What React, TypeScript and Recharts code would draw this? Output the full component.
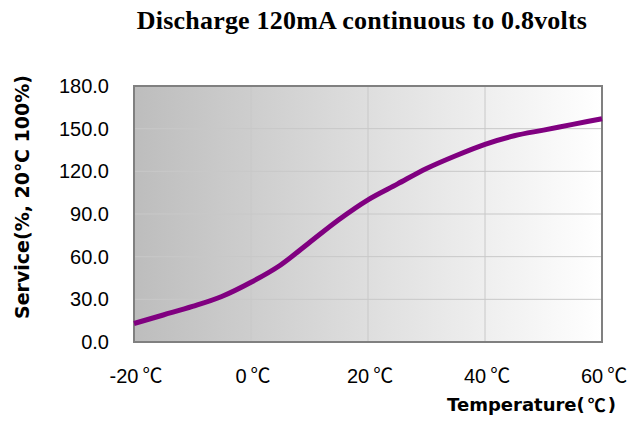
import React from "react";
import { LineChart, Line, XAxis, YAxis, CartesianGrid, ReferenceArea, Label } from "recharts";

const temps = [-20, -15, -10, -5, 0, 5, 10, 15, 20, 25, 30, 35, 40, 45, 50, 55, 60];
const service = [13, 19, 25, 32, 42, 54, 70, 86, 100, 111, 122, 131, 139, 145, 149, 153, 157];
const xTicks = [-20, 0, 20, 40, 60];
const yTicks = [0, 30, 60, 90, 120, 150, 180];

const data = temps.map((t, i) => ({ t, s: service[i] }));

const SANS = "'Liberation Sans', Arial, sans-serif";
const BOLD = "'DejaVu Sans', sans-serif";
const CJK = "'Noto Sans CJK JP', sans-serif";

// x tick: number + spaced degree sign like the original
const TempTick = ({ x, y, payload }: any) => (
  <text x={x + 2} y={y} dy="0.71em" textAnchor="middle" fill="#000" style={{ fontFamily: SANS, fontSize: 20 }}>
    {payload.value}
    <tspan dx={4} style={{ fontFamily: CJK }}>℃</tspan>
  </text>
);

export default function App() {
  return (
    <div style={{ position: "absolute", left: 0, top: 0, width: 635, height: 422, background: "#fff" }}>
      <svg width={0} height={0} style={{ position: "absolute" }}>
        <defs>
          <linearGradient id="plotBg" x1="0" y1="0" x2="1" y2="0">
            <stop offset="0%" stopColor="#bdbdbd" />
            <stop offset="100%" stopColor="#ffffff" />
          </linearGradient>
        </defs>
      </svg>
      <LineChart width={635} height={422} data={data} margin={{ top: 86, right: 33, left: 0, bottom: 0 }}>
        <CartesianGrid fill="url(#plotBg)" stroke="#c8c8c8" strokeWidth={1} />
        <XAxis
          dataKey="t" type="number" domain={[-20, 60]} ticks={xTicks} height={80}
          axisLine={false} tickLine={false} tickSize={0} tickMargin={27}
          tick={<TempTick />}
        >
          <Label
            content={() => (
              <g>
                <text x={362} y={29} textAnchor="middle"
                  style={{ fontFamily: "'Liberation Serif', serif", fontWeight: "bold", fontSize: 26, letterSpacing: 0.2, fill: "#000" }}>
                  Discharge 120mA continuous to 0.8volts
                </text>
                <text x={616} y={404} textAnchor="end" dominantBaseline="central"
                  style={{ fontFamily: BOLD, fontWeight: "bold", fontSize: 18, fill: "#000" }}>
                  Temperature(<tspan dx={3} style={{ fontFamily: CJK }}>℃</tspan><tspan dx={2}>)</tspan>
                </text>
              </g>
            )}
          />
        </XAxis>
        <YAxis
          type="number" domain={[0, 180]} ticks={yTicks} width={134}
          axisLine={false} tickLine={false} tickSize={0} tickMargin={25}
          tickFormatter={(v) => v.toFixed(1)}
          tick={{ fill: "#000", fontSize: 20, fontFamily: SANS }}
        >
          <Label
            content={() => (
              <text x={22} y={197} transform="rotate(-90 22 197)" textAnchor="middle" dominantBaseline="central"
                style={{ fontFamily: BOLD, fontWeight: "bold", fontSize: 19, fill: "#000" }}>
                Service(%, 20℃ 100%)
              </text>
            )}
          />
        </YAxis>
        <ReferenceArea x1={-20} x2={60} y1={0} y2={180} fill="none" stroke="#808080" strokeWidth={2} />
        <Line type="monotone" dataKey="s" stroke="#800080" strokeWidth={5} dot={false} isAnimationActive={false} />
      </LineChart>
    </div>
  );
}
